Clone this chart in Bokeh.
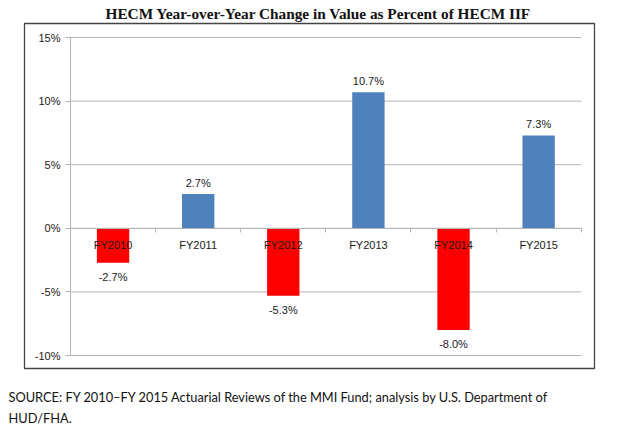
from bokeh.plotting import figure
from bokeh.models import (Range1d, LinearAxis, FixedTicker, PrintfTickFormatter, Title)
from bokeh.embed import file_html
from bokeh.resources import INLINE
from bokeh.core.properties import value

# ---- data ----
categories = ["FY2010", "FY2011", "FY2012", "FY2013", "FY2014", "FY2015"]
changes = [-2.7, 2.7, -5.3, 10.7, -8.0, 7.3]
y_ticks = [-10, -5, 0, 5, 10, 15]
title_text = "HECM Year-over-Year Change in Value as Percent of HECM IIF"
source_lines = ["SOURCE: FY 2010\u2013FY 2015 Actuarial Reviews of the MMI Fund; analysis by U.S. Department of",
                "HUD/FHA."]

BLUE = "#4F81BD"
RED = "#FF0000"
GRID = "#b3b3b3"
TXT = "#1a1a1a"
FONT = "Liberation Sans"

W, H = 618, 431
# the frame is the chart box; the plotting area sits inside it
BOX_L, BOX_R, BOX_T, BOX_B = 24, 594, 23, 368
PA_L, PA_R, PA_T, PA_B = 70, 580.7, 37, 355
n = len(categories)
ymin, ymax = min(y_ticks), max(y_ticks)
xppu = (PA_R - PA_L) / n
yppu = (PA_B - PA_T) / (ymax - ymin)
x_range = Range1d(-(PA_L - BOX_L) / xppu, n + (BOX_R - PA_R) / xppu)
y_range = Range1d(ymin - (BOX_B - PA_B) / yppu, ymax + (PA_T - BOX_T) / yppu)

p = figure(width=W, height=H, x_range=x_range, y_range=y_range,
           output_backend="svg", toolbar_location=None, title=None,
           min_border_left=BOX_L, min_border_right=W - BOX_R, min_border_top=BOX_T,
           min_border_bottom=H - BOX_B, x_axis_type=None, y_axis_type=None,
           background_fill_color="white", border_fill_color="white")
p.outline_line_color = "#444444"
p.outline_line_width = 1.3
p.xgrid.visible = False
p.ygrid.visible = False

xs = [i + 0.5 for i in range(n)]

# horizontal gridlines across the plotting area
p.segment(x0=[0] * len(y_ticks), x1=[n] * len(y_ticks), y0=y_ticks, y1=y_ticks,
          line_color=GRID, line_width=1)

# y axis at left edge of plotting area
yax = LinearAxis(ticker=FixedTicker(ticks=y_ticks), formatter=PrintfTickFormatter(format="%d%%"),
                 fixed_location=0, bounds=(ymin, ymax))
yax.axis_line_color = GRID
yax.major_tick_line_color = GRID
yax.major_tick_out = 5
yax.major_tick_in = 0
yax.minor_tick_line_color = None
yax.major_label_text_font = FONT
yax.major_label_text_font_size = "11px"
yax.major_label_text_color = TXT
yax.major_label_standoff = 5
p.add_layout(yax, "left")

# bars
colors = [BLUE if v >= 0 else RED for v in changes]
p.vbar(x=xs, top=changes, bottom=0, width=0.38, fill_color=colors, line_color=None)

# zero line with tick marks at category boundaries
zax = LinearAxis(ticker=FixedTicker(ticks=list(range(n + 1))), fixed_location=0, bounds=(0, n))
zax.axis_line_color = GRID
zax.major_tick_line_color = GRID
zax.major_tick_out = 4
zax.major_tick_in = 0
zax.minor_tick_line_color = None
zax.major_label_text_font_size = "0px"
zax.major_label_text_color = None
p.add_layout(zax, "below")

# category labels along the zero line
cax = LinearAxis(ticker=FixedTicker(ticks=xs), fixed_location=0,
                 major_label_overrides={x: c for x, c in zip(xs, categories)})
cax.axis_line_color = None
cax.major_tick_line_color = None
cax.minor_tick_line_color = None
cax.major_label_text_font = FONT
cax.major_label_text_font_size = "11px"
cax.major_label_text_color = TXT
cax.major_label_standoff = 5
p.add_layout(cax, "below")

# value labels
labels = ["%.1f%%" % v for v in changes]
offs = [-11 if v >= 0 else 14 for v in changes]
p.text(x=xs, y=changes, text=labels, y_offset=offs, text_align="center",
       text_baseline="middle", text_font=value(FONT), text_font_size="11px", text_color=TXT)

# title above the box
p.add_layout(Title(text=title_text, align="left", offset=105 - BOX_L, standoff=4,
                   text_font="Liberation Serif", text_font_style="bold",
                   text_font_size="15.3px", text_color="#111111"), "above")

# spacing between the box and the source notes
p.add_layout(Title(text=" ", align="left", standoff=14, text_font_size="1px",
                   text_color="white"), "below")

# source notes below the box
for line in source_lines:
    p.add_layout(Title(text=line, align="left", offset=8 - BOX_L, standoff=3,
                       text_font="Lato", text_font_size="12.8px", text_font_style="normal",
                       text_color="#111111"), "below")

open("out.html", "w").write(file_html(p, INLINE))
